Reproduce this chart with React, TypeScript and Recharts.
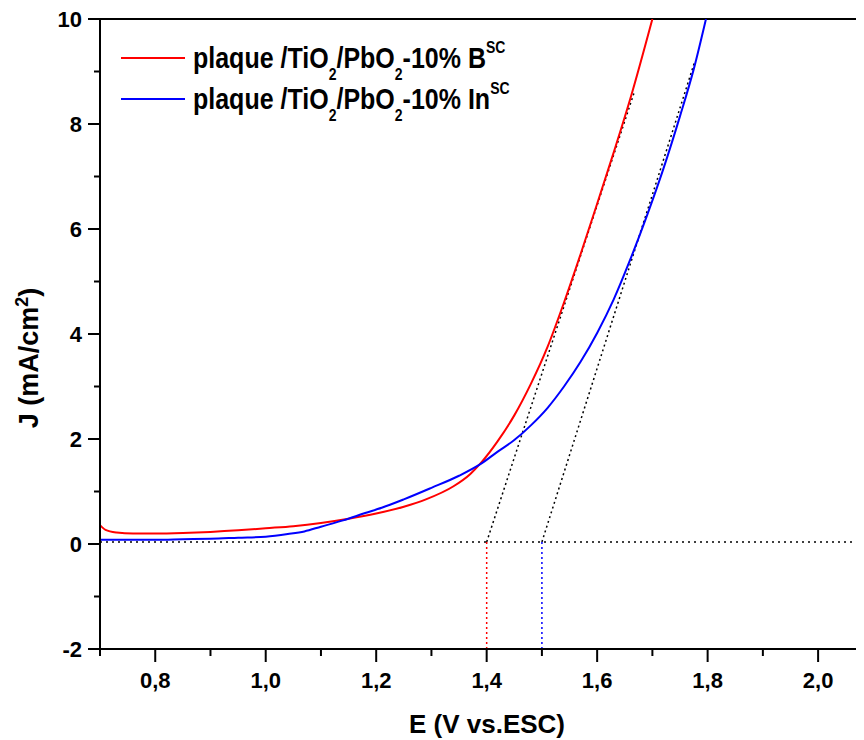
import { ComposedChart, Line, XAxis, YAxis, ReferenceLine, Legend, Label } from "recharts";

const FONT = "'Liberation Sans', Arial, sans-serif";

// J-E curves
const potentialB = [0.7, 0.71, 0.73, 0.76, 0.8, 0.85, 0.9, 0.95, 1.0, 1.05, 1.1, 1.15, 1.2, 1.25, 1.29, 1.34, 1.37, 1.39, 1.42, 1.45, 1.48, 1.51, 1.54, 1.57, 1.6, 1.63, 1.66, 1.7];
const currentB = [0.36, 0.27, 0.22, 0.2, 0.2, 0.21, 0.23, 0.26, 0.3, 0.34, 0.4, 0.48, 0.58, 0.71, 0.85, 1.1, 1.33, 1.55, 1.96, 2.45, 3.05, 3.75, 4.6, 5.52, 6.48, 7.46, 8.48, 10.0];

const potentialIn = [0.7, 0.75, 0.8, 0.85, 0.9, 0.95, 1.0, 1.04, 1.07, 1.1, 1.14, 1.18, 1.21, 1.25, 1.3, 1.35, 1.39, 1.42, 1.45, 1.48, 1.51, 1.54, 1.57, 1.6, 1.63, 1.66, 1.69, 1.72, 1.75, 1.775, 1.797];
const currentIn = [0.08, 0.08, 0.08, 0.09, 0.1, 0.12, 0.14, 0.19, 0.24, 0.33, 0.45, 0.59, 0.69, 0.85, 1.07, 1.3, 1.53, 1.76, 1.98, 2.26, 2.59, 3.0, 3.47, 4.02, 4.66, 5.42, 6.25, 7.15, 8.15, 9.05, 10.0];

// extrapolation lines
const tangentBx = [1.4, 1.667];
const tangentBy = [0.04, 8.6];
const tangentInX = [1.5, 1.777];
const tangentInY = [0.04, 9.2];
const baselineX = [0.7, 2.0686];
const baselineY = [0.04, 0.04];
const onsetB = 1.4;
const onsetIn = 1.5;
const onsetY = [0.04, -2];

const xTicks = [0.7, 0.8, 0.9, 1.0, 1.1, 1.2, 1.3, 1.4, 1.5, 1.6, 1.7, 1.8, 1.9, 2.0];
const xLabelled = [0.8, 1.0, 1.2, 1.4, 1.6, 1.8, 2.0];
const yTicks = [-2, -1, 0, 1, 2, 3, 4, 5, 6, 7, 8, 9, 10];
const yLabelled = [-2, 0, 2, 4, 6, 8, 10];

const series = [
  { name: "B", color: "#ff0000" },
  { name: "In", color: "#0000ff" },
];

const zip = (xs: number[], ys: number[]) => xs.map((x, i) => ({ x, y: ys[i] }));

const dataB = zip(potentialB, currentB);
const dataIn = zip(potentialIn, currentIn);
const tanB = zip(tangentBx, tangentBy);
const tanIn = zip(tangentInX, tangentInY);
const base = zip(baselineX, baselineY);
const dropB = onsetY.map((y) => ({ x: onsetB, y }));
const dropIn = onsetY.map((y) => ({ x: onsetIn, y }));

const isIn = (list: number[], v: number) => list.some((t) => Math.abs(t - v) < 1e-6);

function XTick(props: any) {
  const { x, y, payload } = props;
  const major = isIn(xLabelled, payload.value);
  return (
    <g>
      <line x1={x} y1={y} x2={x} y2={y + (major ? 13 : 7)} stroke="#000" strokeWidth={2} />
      {major && (
        <text x={x} y={y + 39} textAnchor="middle" fontFamily={FONT} fontWeight="bold" fontSize={22} fill="#000">
          {payload.value.toFixed(1).replace(".", ",")}
        </text>
      )}
    </g>
  );
}

function YTick(props: any) {
  const { x, y, payload } = props;
  const major = isIn(yLabelled, payload.value);
  return (
    <g>
      <line x1={x} y1={y} x2={x - (major ? 12 : 6)} y2={y} stroke="#000" strokeWidth={2} />
      {major && (
        <text x={x - 18} y={y + 8} textAnchor="end" fontFamily={FONT} fontWeight="bold" fontSize={22} fill="#000">
          {payload.value}
        </text>
      )}
    </g>
  );
}

function LegendBox() {
  const small = { fontSize: 14, position: "relative" as const };
  return (
    <div style={{ fontFamily: FONT, fontWeight: "bold", fontSize: 25, color: "#000" }}>
      {series.map((s) => (
        <div key={s.name} style={{ display: "flex", alignItems: "center", height: 41, whiteSpace: "nowrap" }}>
          <span style={{ display: "inline-block", width: 64, borderTop: `2px solid ${s.color}`, marginRight: 8 }} />
          <span style={{ display: "inline-block", transform: "scaleY(1.2)", transformOrigin: "50% 50%" }}>
            plaque /TiO<span style={{ ...small, top: 10 }}>2</span>/PbO<span style={{ ...small, top: 10 }}>2</span>-10% {s.name}
            <span style={{ ...small, top: -12.5 }}>SC</span>
          </span>
        </div>
      ))}
    </div>
  );
}

export default function App() {
  return (
    <div style={{ width: 848, height: 732 }}>
      <ComposedChart width={848} height={732} margin={{ top: 11, right: 0, left: 0, bottom: 0 }}>
        <XAxis
          dataKey="x"
          type="number"
          domain={[0.7, 2.0686]}
          allowDataOverflow
          ticks={xTicks}
          interval={0}
          tickSize={0}
          tickMargin={0}
          tickLine={false}
          tick={<XTick />}
          height={91}
          axisLine={{ stroke: "#000", strokeWidth: 2 }}
        >
          <Label
            content={() => (
              <text x={479} y={725} textAnchor="middle" fontFamily={FONT} fontWeight="bold" fontSize={26} fill="#000">
                E (V vs.ESC)
              </text>
            )}
          />
        </XAxis>
        <YAxis
          dataKey="y"
          type="number"
          domain={[-2, 10]}
          allowDataOverflow
          ticks={yTicks}
          interval={0}
          tickSize={0}
          tickMargin={0}
          tickLine={false}
          tick={<YTick />}
          width={92}
          axisLine={{ stroke: "#000", strokeWidth: 2 }}
        >
          <Label
            content={() => (
              <text
                x={30}
                y={350}
                transform="rotate(-90, 30, 350)"
                textAnchor="middle"
                fontFamily={FONT}
                fontWeight="bold"
                fontSize={27}
                fill="#000"
              >
                J (mA/cm
                <tspan dy={-10} fontSize={18}>2</tspan>
                <tspan dy={10}>)</tspan>
              </text>
            )}
          />
        </YAxis>
        <ReferenceLine y={10} stroke="#000" strokeWidth={2} />
        <Legend
          layout="horizontal"
          align="center"
          verticalAlign="middle"
          content={() => <LegendBox />}
          wrapperStyle={{ top: 29, left: 113, width: "auto" }}
        />
        <Line data={base} dataKey="y" type="linear" stroke="#000" strokeWidth={1.5} strokeDasharray="2 4" dot={false} isAnimationActive={false} legendType="none" />
        <Line data={tanB} dataKey="y" type="linear" stroke="#000" strokeWidth={1.5} strokeDasharray="2 3" dot={false} isAnimationActive={false} legendType="none" />
        <Line data={tanIn} dataKey="y" type="linear" stroke="#000" strokeWidth={1.5} strokeDasharray="2 3" dot={false} isAnimationActive={false} legendType="none" />
        <Line data={dropB} dataKey="y" type="linear" stroke="#ff0000" strokeWidth={1.5} strokeDasharray="2 3" dot={false} isAnimationActive={false} legendType="none" />
        <Line data={dropIn} dataKey="y" type="linear" stroke="#0000ff" strokeWidth={1.5} strokeDasharray="2 3" dot={false} isAnimationActive={false} legendType="none" />
        <Line data={dataB} dataKey="y" type="monotone" stroke="#ff0000" strokeWidth={2} dot={false} isAnimationActive={false} />
        <Line data={dataIn} dataKey="y" type="monotone" stroke="#0000ff" strokeWidth={2} dot={false} isAnimationActive={false} />
      </ComposedChart>
    </div>
  );
}
